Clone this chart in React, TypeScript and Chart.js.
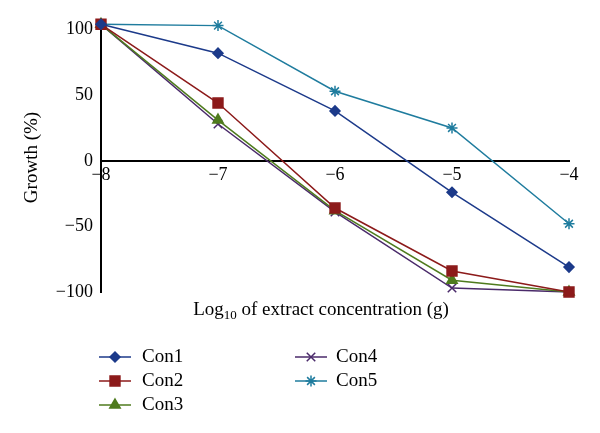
import React, { useEffect, useRef } from 'react';
import { Chart, registerables } from 'chart.js';
import { drawPoint } from 'chart.js/helpers';

Chart.register(...registerables);

const xValues = [-8, -7, -6, -5, -4];
const seriesNames = ['Con1', 'Con2', 'Con3', 'Con4', 'Con5'];
const con1 = [104, 82, 38, -24, -81];
const con2 = [104, 44, -36, -84, -100];
const con3 = [104, 31, -38, -91, -100];
const con4 = [104, 28, -39, -97, -100];
const con5 = [104, 103, 53, 25, -48];
const yTicks = [100, 50, 0, -50, -100];
const yTitle = 'Growth (%)';
const xTitleMain = 'Log';
const xTitleSub = '10';
const xTitleRest = ' of extract concentration (g)';

const colors = ['#1c3a8a', '#8c1a1a', '#4f7b1e', '#4a2a6a', '#1f7c9e'];
const pointStyles = ['rectRot', 'rect', 'triangle', 'crossRot', 'star'];
const radii = [5, 7, 6, 6, 5.5];
const allSeries = [con1, con2, con3, con4, con5];

const FONT_FAMILY = "'Liberation Serif', 'DejaVu Serif', serif";

const fmt = (v: number) => (v < 0 ? '\u2212' + Math.abs(v) : String(v));

const extrasPlugin = {
  id: 'extras',
  afterDraw(chart: any) {
    const ctx = chart.ctx;
    ctx.save();
    ctx.fillStyle = '#000';
    ctx.textBaseline = 'middle';
    ctx.textAlign = 'left';
    const mainFont = `19px ${FONT_FAMILY}`;
    const subFont = `13px ${FONT_FAMILY}`;
    ctx.font = mainFont;
    const w1 = ctx.measureText(xTitleMain).width;
    const w3 = ctx.measureText(xTitleRest).width;
    ctx.font = subFont;
    const w2 = ctx.measureText(xTitleSub).width;
    const total = w1 + w2 + w3;
    let x = 321 - total / 2;
    const y = 310;
    ctx.font = mainFont;
    ctx.fillText(xTitleMain, x, y);
    x += w1;
    ctx.font = subFont;
    ctx.fillText(xTitleSub, x, y + 6);
    x += w2;
    ctx.font = mainFont;
    ctx.fillText(xTitleRest, x, y);

    seriesNames.forEach((name, i) => {
      const col = i < 3 ? 0 : 1;
      const row = i < 3 ? i : i - 3;
      const lx = col ? 295 : 99;
      const ly = 357 + row * 24;
      ctx.strokeStyle = colors[i];
      ctx.fillStyle = colors[i];
      ctx.lineWidth = 1.5;
      ctx.beginPath();
      ctx.moveTo(lx, ly);
      ctx.lineTo(lx + 32, ly);
      ctx.stroke();
      drawPoint(ctx, { pointStyle: pointStyles[i], rotation: 0, radius: radii[i], borderWidth: 1.5 } as any, lx + 16, ly);
      ctx.fillStyle = '#000';
      ctx.font = mainFont;
      ctx.textAlign = 'left';
      ctx.textBaseline = 'middle';
      ctx.fillText(name, col ? 336 : 142, ly);
    });
    ctx.restore();
  },
};

export default function App() {
  const ref = useRef<HTMLCanvasElement>(null);
  useEffect(() => {
    if (!ref.current) return;
    const tickFont = { family: FONT_FAMILY, size: 18 };
    const titleFont = { family: FONT_FAMILY, size: 19 };
    const chart = new Chart(ref.current, {
      type: 'line',
      data: {
        datasets: seriesNames.map((name, i) => ({
          label: name,
          data: xValues.map((xv, j) => ({ x: xv, y: allSeries[i][j] })),
          borderColor: colors[i],
          backgroundColor: colors[i],
          pointBackgroundColor: colors[i],
          pointBorderColor: colors[i],
          pointStyle: pointStyles[i] as any,
          pointRadius: radii[i],
          pointBorderWidth: 1.5,
          borderWidth: 1.5,
          tension: 0,
          fill: false,
          clip: false as any,
        })),
      },
      options: {
        responsive: false,
        animation: false,
        layout: { padding: { left: 0, right: 31, top: 23, bottom: 141 } },
        plugins: {
          legend: { display: false },
          tooltip: { enabled: false },
        },
        scales: {
          x: {
            type: 'linear',
            min: -8,
            max: -4,
            position: { y: 0 } as any,
            afterBuildTicks: (s: any) => {
              s.ticks = xValues.map((v) => ({ value: v }));
            },
            grid: { display: false, drawTicks: false },
            border: { display: true, color: '#000', width: 2 },
            ticks: {
              padding: 4,
              color: '#000',
              font: tickFont,
              autoSkip: false,
              maxRotation: 0,
              callback: (v: any) => fmt(Number(v)),
            },
          },
          y: {
            type: 'linear',
            min: -100,
            max: 105,
            afterBuildTicks: (s: any) => {
              s.ticks = yTicks.map((v) => ({ value: v }));
            },
            afterFit: (s: any) => {
              s.width = 101;
            },
            grid: { display: false, drawTicks: false },
            border: { display: true, color: '#000', width: 2 },
            ticks: {
              padding: 8,
              color: '#000',
              font: tickFont,
              callback: (v: any) => fmt(Number(v)),
            },
            title: {
              display: true,
              text: yTitle,
              color: '#000',
              font: titleFont,
              padding: { top: 21, bottom: 0 },
            },
          },
        },
      },
      plugins: [extrasPlugin],
    });
    return () => chart.destroy();
  }, []);
  return (
    <div style={{ position: 'absolute', left: 0, top: 0, width: 600, height: 433, background: '#fff' }}>
      <canvas ref={ref} width={600} height={433} />
    </div>
  );
}
